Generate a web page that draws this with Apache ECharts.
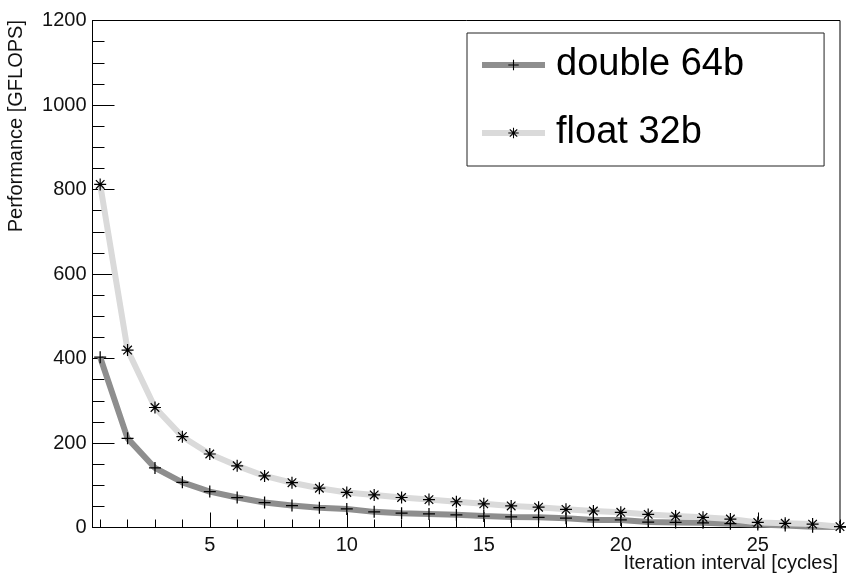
<!DOCTYPE html>
<html>
<head>
<meta charset="utf-8">
<script src="https://cdn.jsdelivr.net/npm/echarts@6/dist/echarts.min.js"></script>
<style>html,body{margin:0;padding:0;background:#fff;}#c{width:864px;height:577px;}</style>
</head>
<body>
<div id="c"></div>
<script>
const iterations = [1,2,3,4,5,6,7,8,9,10,11,12,13,14,15,16,17,18,19,20,21,22,23,24,25,26,27,28];
const double64 = [403,211,141,107,85,71,59,52,47,44,37,34,32,30,27,25,24,22,18,18,13,12,11,9,7,5,2,1];
const float32 = [812,420,284,215,174,146,122,106,93,83,77,71,66,61,56,51,48,43,39,36,31,27,24,20,12,10,8,2];
const xTickLabels = [5,10,15,20,25];
const xMinorTicks = iterations;
const seriesNames = ['double 64b','float 32b'];
const xTitle = 'Iteration interval [cycles]';
const yTitle = 'Performance [GFLOPS]';

const FONT = 'Liberation Sans, Arial, Helvetica, sans-serif';
const plusPath = 'path://M0 10.75H24V13.25H0Z M10.75 0H13.25V24H10.75Z';
const starPath = 'path://M0 10.8H24V13.2H0Z M10.8 0H13.2V24H10.8Z M4.3 2.6L21.4 19.7L19.7 21.4L2.6 4.3Z M19.7 2.6L21.4 4.3L4.3 21.4L2.6 19.7Z M9.5 9.5H14.5V14.5H9.5Z';

const chart = echarts.init(document.getElementById('c'), null, {renderer:'canvas'});
const xMin = 0.72, xMax = 28;
chart.setOption({
  backgroundColor: '#fff',
  animation: false,
  grid: {left: 92.5, right: 24, top: 20.5, bottom: 49.5, show: true, borderColor: '#000', borderWidth: 1, backgroundColor: 'transparent'},
  xAxis: [
    {type: 'value', min: xMin, max: xMax, position: 'bottom',
     axisLine: {show: true, lineStyle: {color: '#000', width: 1}},
     axisTick: {show: true, inside: true, length: 15, customValues: xTickLabels, lineStyle: {color: '#000'}},
     axisLabel: {show: true, customValues: xTickLabels, fontSize: 20, fontFamily: FONT, color: '#111', margin: 8},
     splitLine: {show: false}},
    {type: 'value', min: xMin, max: xMax, position: 'bottom',
     axisLine: {show: false},
     axisTick: {show: true, inside: true, length: 8, customValues: xMinorTicks, lineStyle: {color: '#000'}},
     axisLabel: {show: false},
     splitLine: {show: false}}
  ],
  yAxis: {type: 'value', min: 0, max: 1200, interval: 200,
    axisLine: {show: true, lineStyle: {color: '#000', width: 1}},
    axisTick: {show: true, inside: true, length: 22, lineStyle: {color: '#000'}},
    minorTick: {show: true, splitNumber: 4, length: 12, lineStyle: {color: '#000'}},
    axisLabel: {fontSize: 20, fontFamily: FONT, color: '#111', margin: 6, formatter: v => String(v)},
    splitLine: {show: false}},
  legend: {
    orient: 'vertical', left: 467, top: 33,
    padding: [13, 80, 14, 12],
    itemGap: 30, itemWidth: 63, itemHeight: 13,
    borderColor: '#222', borderWidth: 1, backgroundColor: '#fff',
    textStyle: {fontSize: 38, fontFamily: FONT, color: '#000', padding: [0,0,0,6]},
    lineStyle: {width: 6},
    data: seriesNames
  },
  series: [
    {name: seriesNames[0], type: 'line', xAxisIndex: 0,
     data: iterations.map((x, i) => [x, double64[i]]),
     symbol: plusPath, symbolSize: 12, showSymbol: true,
     lineStyle: {color: '#8e8e8e', width: 6},
     itemStyle: {color: '#000'}, z: 2},
    {name: seriesNames[1], type: 'line', xAxisIndex: 0,
     data: iterations.map((x, i) => [x, float32[i]]),
     symbol: starPath, symbolSize: 12, showSymbol: true,
     lineStyle: {color: '#dadada', width: 6},
     itemStyle: {color: '#000'}, z: 3}
  ],
  graphic: [
    {type: 'text', x: 838, y: 563, style: {text: xTitle, font: '20px ' + FONT, fill: '#111', textAlign: 'right', textVerticalAlign: 'middle'}},
    {type: 'text', x: 16, y: 20, rotation: Math.PI / 2, style: {text: yTitle, font: '20px ' + FONT, fill: '#111', textAlign: 'right', textVerticalAlign: 'middle'}}
  ]
});
</script>
</body>
</html>
